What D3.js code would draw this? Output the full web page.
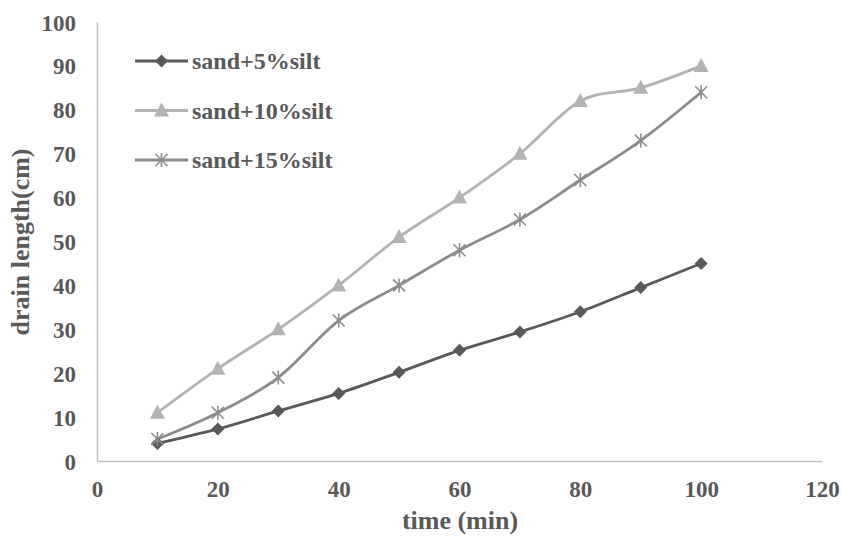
<!DOCTYPE html>
<html><head><meta charset="utf-8">
<script src="https://cdn.jsdelivr.net/npm/d3@7"></script>
<style>body{margin:0;background:#fff}svg{display:block}</style>
</head><body>
<svg id="c" width="842" height="537"></svg>
<script>
const times = [10,20,30,40,50,60,70,80,90,100];
const silt5 = [4,7.3,11.4,15.4,20.2,25.2,29.4,34,39.5,45];
const silt10 = [11,21,30,40,51,60,70,82,85,90];
const silt15 = [5,11,19,32,40,48,55,64,73,84];
const seriesNames = ["sand+5%silt","sand+10%silt","sand+15%silt"];
const xTicks = [0,20,40,60,80,100,120];
const yTicks = [0,10,20,30,40,50,60,70,80,90,100];

const series = [
  {name:seriesNames[0], vals:silt5, color:"#595959", marker:"diamond"},
  {name:seriesNames[1], vals:silt10, color:"#b3b3b3", marker:"triangle"},
  {name:seriesNames[2], vals:silt15, color:"#8c8c8c", marker:"star"}
];

const svg = d3.select("#c");
const x = d3.scaleLinear().domain([0,120]).range([97,822]);
const y = d3.scaleLinear().domain([0,100]).range([461,22]);
const font = "'Liberation Serif','Times New Roman',serif";
const txt = "#595959";

// axes
const xa = svg.append("g").attr("transform","translate(0,461)")
  .call(d3.axisBottom(x).tickValues(xTicks).tickSize(0).tickPadding(20));
const ya = svg.append("g").attr("transform","translate(97,0)")
  .call(d3.axisLeft(y).tickValues(yTicks).tickSize(0).tickPadding(21));
[xa,ya].forEach(a=>{
  a.select(".domain").attr("stroke","#bfbfbf").attr("stroke-width",1.5);
  a.selectAll("text").attr("font-family",font).attr("font-weight","bold")
   .attr("font-size",23).attr("fill",txt);
});
ya.selectAll("text").attr("text-anchor","end").attr("dy","0.35em");
xa.selectAll("text").attr("dy","0.71em");

// titles
svg.append("text").attr("x",460).attr("y",529).attr("text-anchor","middle")
  .attr("font-family",font).attr("font-weight","bold").attr("font-size",26).attr("fill",txt)
  .text("time (min)");
svg.append("text").attr("transform","translate(29,242) rotate(-90)").attr("text-anchor","middle")
  .attr("font-family",font).attr("font-weight","bold").attr("font-size",26).attr("fill",txt)
  .text("drain length(cm)");

function drawMarker(g, type, color){
  if(type==="diamond"){
    g.append("path").attr("d","M0,-6.5L6.5,0L0,6.5L-6.5,0Z").attr("fill",color);
  } else if(type==="triangle"){
    g.append("path").attr("d","M0,-8L7.5,6L-7.5,6Z").attr("fill",color);
  } else {
    const s=6;
    g.append("path").attr("d",`M${-s},${-s}L${s},${s}M${-s},${s}L${s},${-s}M0,${-s-1}L0,${s+1}`)
      .attr("stroke",color).attr("stroke-width",1.6).attr("fill","none");
  }
}

const line = d3.line().x(d=>x(d[0])).y(d=>y(d[1])).curve(d3.curveCardinal.tension(0));
series.forEach(s=>{
  const pts = times.map((t,i)=>[t,s.vals[i]]);
  svg.append("path").datum(pts).attr("d",line).attr("fill","none")
    .attr("stroke",s.color).attr("stroke-width",2.8);
});
series.forEach(s=>{
  times.forEach((t,i)=>{
    const g = svg.append("g").attr("transform",`translate(${x(t)},${y(s.vals[i])})`);
    drawMarker(g,s.marker,s.color);
  });
});

// legend
series.forEach((s,i)=>{
  const ly = 61 + i*49.5;
  svg.append("line").attr("x1",135).attr("x2",188).attr("y1",ly).attr("y2",ly)
    .attr("stroke",s.color).attr("stroke-width",2.8);
  const g = svg.append("g").attr("transform",`translate(161.5,${ly})`);
  drawMarker(g,s.marker,s.color);
  svg.append("text").attr("x",192).attr("y",ly).attr("dy","0.35em")
    .attr("font-family",font).attr("font-weight","bold").attr("font-size",24).attr("fill",txt)
    .text(s.name);
});
</script>
</body></html>
